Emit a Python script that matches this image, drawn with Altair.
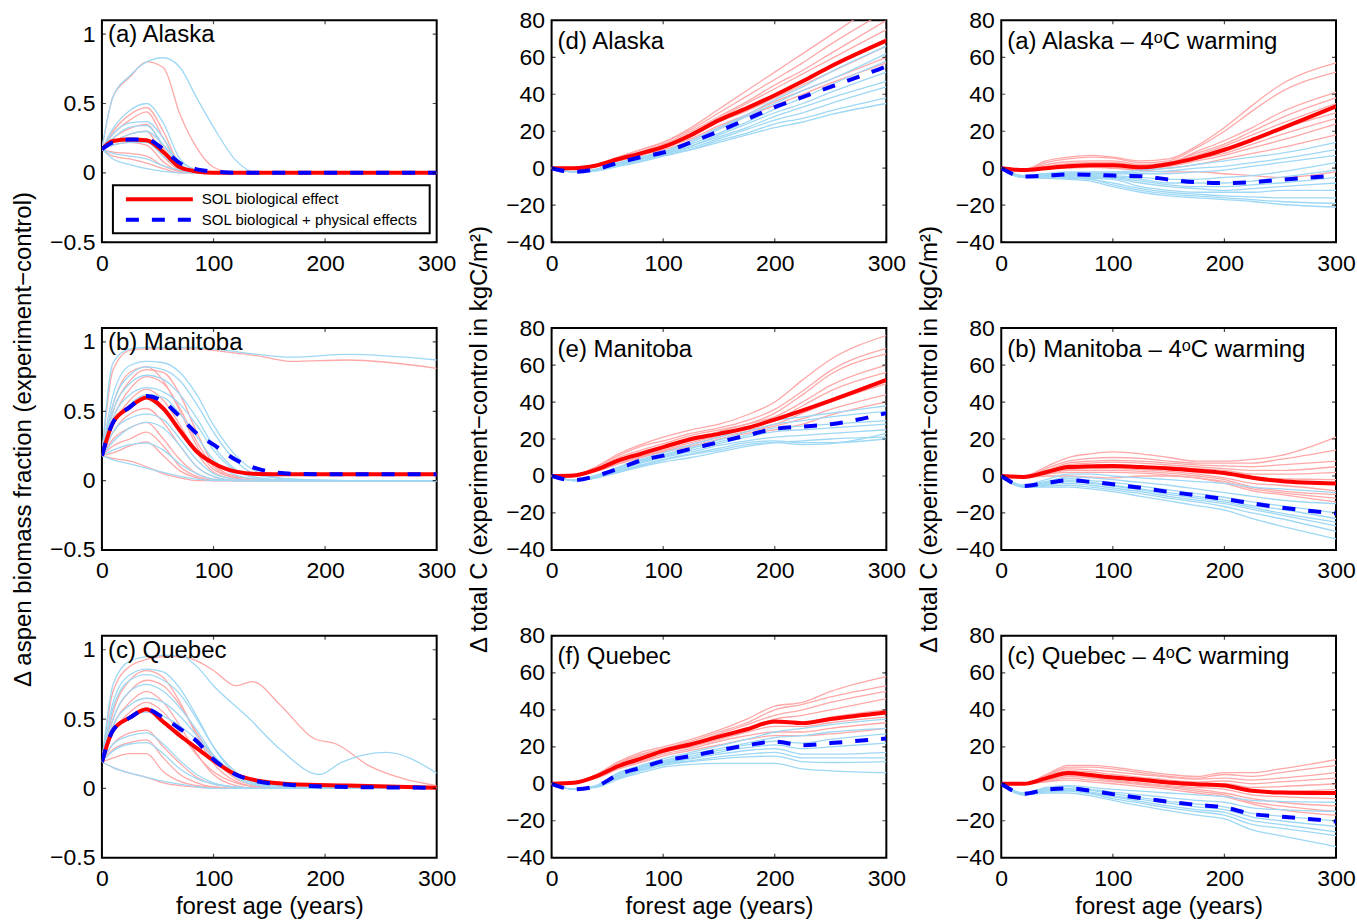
import altair as alt
import pandas as pd

FONT = "Liberation Sans"
PINK = "#FFA8A8"
CYAN = "#9ED8F5"
RED = "#FF0000"
BLUE = "#0000FF"

# ---------------- axes / text ----------------
X_FRAC = [0, 10, 25, 40, 55, 70, 85, 100, 120, 140, 170, 220, 300]
X_C = [0, 20, 40, 60, 80, 100, 125, 150, 175, 200, 225, 250, 300]
X_TICKS = [0, 100, 200, 300]
FRAC_TICKS = [-0.5, 0, 0.5, 1]
C_TICKS = [-40, -20, 0, 20, 40, 60, 80]
FRAC_DOMAIN = [-0.5, 1.1]
C_DOMAIN = [-40, 80]

PANEL_TITLES = [
    "(a) Alaska", "(d) Alaska", "(a) Alaska – 4ᵒC warming",
    "(b) Manitoba", "(e) Manitoba", "(b) Manitoba – 4ᵒC warming",
    "(c) Quebec", "(f) Quebec", "(c) Quebec – 4ᵒC warming",
]
Y_TITLE_FRAC = "Δ aspen biomass fraction (experiment−control)"
Y_TITLE_C = "Δ total C (experiment−control in kgC/m²)"
X_TITLE = "forest age (years)"
LEGEND_LABELS = ["SOL biological effect", "SOL biological + physical effects"]

# ---------------- (a) Alaska, aspen fraction ----------------
A_RED = [0.17, 0.23, 0.24, 0.235, 0.15, 0.04, 0.01, 0, 0, 0, 0, 0, 0]
A_BLUE = [0.17, 0.22, 0.24, 0.24, 0.17, 0.07, 0.025, 0.01, 0, 0, 0, 0, 0]
A_PINK = [
    [0.17, 0.55, 0.69, 0.80, 0.76, 0.42, 0.18, 0.04, 0, 0, 0, 0, 0],
    [0.17, 0.30, 0.42, 0.47, 0.30, 0.06, 0.01, 0, 0, 0, 0, 0, 0],
    [0.17, 0.28, 0.38, 0.44, 0.25, 0.05, 0.01, 0, 0, 0, 0, 0, 0],
    [0.17, 0.25, 0.32, 0.35, 0.18, 0.03, 0, 0, 0, 0, 0, 0, 0],
    [0.17, 0.22, 0.28, 0.30, 0.12, 0.02, 0, 0, 0, 0, 0, 0, 0],
    [0.17, 0.20, 0.22, 0.20, 0.08, 0.01, 0, 0, 0, 0, 0, 0, 0],
    [0.17, 0.15, 0.14, 0.12, 0.05, 0.01, 0, 0, 0, 0, 0, 0, 0],
    [0.17, 0.12, 0.10, 0.07, 0.03, 0, 0, 0, 0, 0, 0, 0, 0],
]
A_CYAN = [
    [0.17, 0.55, 0.70, 0.80, 0.83, 0.76, 0.54, 0.33, 0.09, 0, 0, 0, 0],
    [0.17, 0.32, 0.45, 0.50, 0.36, 0.10, 0.02, 0, 0, 0, 0, 0, 0],
    [0.17, 0.28, 0.36, 0.37, 0.25, 0.06, 0.01, 0, 0, 0, 0, 0, 0],
    [0.17, 0.25, 0.33, 0.34, 0.20, 0.05, 0.01, 0, 0, 0, 0, 0, 0],
    [0.17, 0.22, 0.28, 0.30, 0.20, 0.08, 0.02, 0, 0, 0, 0, 0, 0],
    [0.17, 0.20, 0.22, 0.22, 0.12, 0.03, 0, 0, 0, 0, 0, 0, 0],
    [0.17, 0.14, 0.12, 0.10, 0.05, 0.02, 0, 0, 0, 0, 0, 0, 0],
    [0.17, 0.10, 0.06, 0.03, 0.01, 0, 0, 0, 0, 0, 0, 0, 0],
]

# ---------------- (b) Manitoba, aspen fraction ----------------
B_RED = [0.18, 0.42, 0.53, 0.60, 0.52, 0.36, 0.21, 0.125, 0.065, 0.048, 0.045, 0.045, 0.045]
B_BLUE = [0.18, 0.42, 0.53, 0.61, 0.57, 0.46, 0.34, 0.26, 0.15, 0.085, 0.05, 0.045, 0.045]
B_PINK = [
    [0.18, 0.80, 0.94, 0.95, 0.95, 0.95, 0.95, 0.94, 0.92, 0.90, 0.86, 0.87, 0.81],
    [0.18, 0.55, 0.78, 0.82, 0.72, 0.50, 0.25, 0.08, 0.02, 0, 0, 0, 0],
    [0.18, 0.50, 0.72, 0.80, 0.78, 0.62, 0.35, 0.12, 0.03, 0.01, 0, 0, 0],
    [0.18, 0.45, 0.66, 0.75, 0.70, 0.52, 0.28, 0.10, 0.02, 0, 0, 0, 0],
    [0.18, 0.40, 0.58, 0.66, 0.58, 0.40, 0.20, 0.06, 0.01, 0, 0, 0, 0],
    [0.18, 0.35, 0.48, 0.52, 0.42, 0.25, 0.10, 0.03, 0, 0, 0, 0, 0],
    [0.18, 0.30, 0.38, 0.42, 0.30, 0.15, 0.05, 0.01, 0, 0, 0, 0, 0],
    [0.18, 0.25, 0.30, 0.35, 0.25, 0.10, 0.03, 0, 0, 0, 0, 0, 0],
    [0.18, 0.20, 0.25, 0.28, 0.18, 0.07, 0.02, 0, 0, 0, 0, 0, 0],
    [0.18, 0.16, 0.14, 0.10, 0.05, 0.02, 0, 0, 0, 0, 0, 0, 0],
]
B_CYAN = [
    [0.18, 0.85, 0.95, 0.96, 0.96, 0.96, 0.96, 0.95, 0.93, 0.91, 0.89, 0.91, 0.87],
    [0.18, 0.62, 0.83, 0.86, 0.85, 0.78, 0.62, 0.40, 0.18, 0.06, 0.01, 0, 0],
    [0.18, 0.55, 0.76, 0.82, 0.80, 0.72, 0.55, 0.35, 0.14, 0.04, 0.01, 0, 0],
    [0.18, 0.50, 0.70, 0.76, 0.73, 0.62, 0.45, 0.25, 0.08, 0.02, 0, 0, 0],
    [0.18, 0.45, 0.62, 0.67, 0.64, 0.55, 0.40, 0.22, 0.07, 0.02, 0, 0, 0],
    [0.18, 0.40, 0.55, 0.62, 0.60, 0.48, 0.32, 0.15, 0.04, 0.01, 0, 0, 0],
    [0.18, 0.35, 0.45, 0.48, 0.44, 0.30, 0.15, 0.05, 0.01, 0, 0, 0, 0],
    [0.18, 0.28, 0.38, 0.42, 0.38, 0.25, 0.10, 0.03, 0, 0, 0, 0, 0],
    [0.18, 0.22, 0.26, 0.27, 0.22, 0.12, 0.05, 0.01, 0, 0, 0, 0, 0],
    [0.18, 0.15, 0.12, 0.09, 0.06, 0.03, 0.01, 0, 0, 0, 0, 0, 0],
]

# ---------------- (c) Quebec, aspen fraction ----------------
C_RED = [0.19, 0.42, 0.51, 0.57, 0.48, 0.38, 0.29, 0.20, 0.10, 0.055, 0.03, 0.02, 0.005]
C_BLUE = [0.19, 0.42, 0.51, 0.57, 0.51, 0.43, 0.34, 0.21, 0.10, 0.05, 0.025, 0.01, 0.005]
C_PINK = [
    [0.19, 0.55, 0.78, 0.85, 0.80, 0.62, 0.38, 0.18, 0.05, 0.01, 0, 0, 0],
    [0.19, 0.50, 0.70, 0.78, 0.74, 0.60, 0.40, 0.22, 0.07, 0.02, 0, 0, 0],
    [0.19, 0.45, 0.62, 0.70, 0.62, 0.45, 0.25, 0.10, 0.02, 0, 0, 0, 0],
    [0.19, 0.40, 0.55, 0.62, 0.55, 0.40, 0.24, 0.12, 0.04, 0.01, 0, 0, 0],
    [0.19, 0.32, 0.40, 0.42, 0.30, 0.18, 0.08, 0.03, 0.01, 0, 0, 0, 0],
    [0.19, 0.28, 0.33, 0.35, 0.22, 0.10, 0.04, 0.01, 0, 0, 0, 0, 0],
    [0.19, 0.22, 0.25, 0.25, 0.12, 0.05, 0.02, 0.01, 0, 0, 0, 0, 0],
    [0.19, 0.15, 0.11, 0.08, 0.04, 0.02, 0.01, 0, 0, 0, 0, 0, 0],
]
C_CYAN = [
    [0.19, 0.62, 0.82, 0.86, 0.84, 0.72, 0.52, 0.30, 0.10, 0.03, 0.01, 0, 0],
    [0.19, 0.58, 0.78, 0.82, 0.78, 0.68, 0.50, 0.30, 0.12, 0.04, 0.01, 0, 0],
    [0.19, 0.50, 0.70, 0.75, 0.70, 0.58, 0.42, 0.24, 0.08, 0.02, 0, 0, 0],
    [0.19, 0.45, 0.60, 0.65, 0.62, 0.52, 0.38, 0.24, 0.10, 0.03, 0.01, 0, 0],
    [0.19, 0.40, 0.52, 0.55, 0.52, 0.45, 0.35, 0.22, 0.10, 0.04, 0.01, 0, 0],
    [0.19, 0.32, 0.38, 0.40, 0.32, 0.20, 0.10, 0.04, 0.01, 0, 0, 0, 0],
    [0.19, 0.27, 0.32, 0.33, 0.25, 0.14, 0.07, 0.03, 0.01, 0, 0, 0, 0],
    [0.19, 0.15, 0.11, 0.08, 0.05, 0.03, 0.01, 0, 0, 0, 0, 0, 0],
]
C_PINK_LONG_X = [0, 10, 25, 40, 55, 70, 85, 100, 120, 135, 160, 190, 210, 240, 270, 300]
C_PINK_LONG_Y = [0.19, 0.70, 0.88, 0.93, 0.95, 0.95, 0.92, 0.85, 0.74, 0.77, 0.60, 0.36, 0.32, 0.16, 0.07, 0.02]
C_CYAN_LONG_X = [0, 10, 25, 40, 55, 70, 85, 100, 130, 160, 195, 215, 255, 300]
C_CYAN_LONG_Y = [0.19, 0.75, 0.92, 0.95, 0.96, 0.96, 0.88, 0.74, 0.52, 0.28, 0.10, 0.19, 0.26, 0.11]

# ---------------- (d) Alaska, total C ----------------
D_RED = [0, 0, 1.5, 5, 8, 11.5, 18, 26, 32.5, 39.5, 47, 55, 69]
D_BLUE = [0, -2, -0.5, 3, 6, 8.5, 14, 20, 26.5, 33, 38.5, 44, 55]
D_PINK = [
    [0, 0, 2, 6, 10, 14, 22, 32, 42, 52, 62, 72, 92],
    [0, 0, 2, 6, 10, 14, 21, 30, 39, 48, 57, 67, 85],
    [0, 0, 2, 5, 9, 13, 20, 28, 36, 45, 53, 62, 80],
    [0, 0, 1.5, 5, 8.5, 12, 19, 27, 35, 43, 51, 59, 75],
    [0, 0, 1.5, 5, 8, 12, 18, 26, 33, 40, 47, 55, 70],
    [0, 0, 1.5, 4.5, 8, 11, 17, 25, 31, 38, 45, 52, 66],
    [0, 0, 1, 4, 7, 11, 16, 23, 29, 36, 42, 48, 60],
    [0, 0, 1, 4, 7, 10, 15, 22, 28, 34, 40, 46, 57],
]
D_CYAN = [
    [0, -2, -0.5, 3, 6, 9, 15, 22, 29, 37, 44, 52, 66],
    [0, -2, -0.5, 3, 6, 9, 14, 21, 28, 35, 42, 48, 62],
    [0, -2, -1, 2.5, 5.5, 8.5, 13, 19, 25, 32, 38, 45, 58],
    [0, -2, -1, 2, 5, 8, 12, 18, 24, 30, 35, 41, 52],
    [0, -2, -1, 2, 5, 8, 12, 17, 22, 28, 33, 38, 47],
    [0, -2, -1, 2, 4.5, 7.5, 11, 16, 21, 26, 30, 35, 44],
    [0, -2, -1, 1.5, 4, 7, 10, 15, 19, 24, 27, 31, 38],
    [0, -2, -1.5, 1, 3.5, 6.5, 10, 14, 18, 22, 25, 29, 35],
]

# ---------------- (e) Manitoba, total C ----------------
E_RED = [0, 0.3, 3.4, 8.4, 12, 15.6, 20, 22.8, 26, 30.5, 35.5, 40.8, 52]
E_BLUE = [0, -2.3, 0, 4, 8.4, 11, 14.7, 18.3, 22, 25.5, 26.7, 28, 34]
E_PINK = [
    [0, 0.5, 5, 12, 17, 21, 25, 28, 33, 40, 52, 63, 76],
    [0, 0.5, 5, 11, 16, 19, 23, 26, 30, 36, 46, 57, 69],
    [0, 0.5, 4, 10, 14, 17.5, 22, 25, 28, 34, 44, 55, 66],
    [0, 0.3, 4, 9, 13, 16, 20, 24, 28, 32, 40, 49, 60],
    [0, 0.3, 3.5, 8, 12, 15, 19, 22, 26, 30, 38, 46, 56],
    [0, 0.3, 3, 7.5, 11, 14, 18, 22, 25, 28, 34, 40, 50],
    [0, 0.3, 3, 7, 10.5, 13.5, 17, 21, 24, 27, 31, 36, 44],
    [0, 0.2, 2.5, 6.5, 10, 13, 16, 20, 23, 25, 28, 33, 40],
]
E_CYAN = [
    [0, -2.3, 0.5, 5, 9, 12.5, 17, 21, 26, 30, 32, 34, 38],
    [0, -2.3, 0, 4.5, 8.5, 11.5, 15.5, 19.5, 24, 28, 30, 32, 35],
    [0, -2.3, 0, 4, 8, 11, 15, 18.5, 22, 26, 27, 28, 30],
    [0, -2.5, -0.5, 3.5, 7.5, 10.5, 14, 17.5, 21, 24, 25, 26, 28],
    [0, -2.5, -0.5, 3, 7, 10, 13, 16.5, 19, 21, 22, 23, 25],
    [0, -2.5, -1, 2.5, 6, 9, 12, 15, 18, 19, 18, 18, 20],
    [0, -2.5, -1, 2, 5.5, 8.5, 11.5, 14, 17, 18, 17, 17.5, 23],
    [0, -2.5, -1, 2, 5, 7.5, 10, 13, 16, 18, 19, 20, 21],
]

# ---------------- (f) Quebec, total C ----------------
F_RED = [0, 0.5, 4, 9.6, 13.6, 17.8, 21.4, 25.5, 29.5, 33.7, 32.8, 35, 38.6]
F_BLUE = [0, -3, -1.3, 5, 8.7, 12.3, 15, 18, 20.8, 22.8, 20.8, 22, 24.5]
F_PINK = [
    [0, 0.5, 5, 12, 17, 20, 24, 29, 35, 42, 44, 50, 58],
    [0, 0.5, 5, 11.5, 16, 19, 23, 28, 33, 40, 43, 47, 53],
    [0, 0.5, 4.5, 11, 15.5, 18.5, 22, 27, 32, 37, 40, 44, 50],
    [0, 0.5, 4, 10, 14.5, 18, 21.5, 26, 30, 35, 37, 40, 46],
    [0, 0.5, 4, 9.5, 13.5, 17.5, 21, 25, 29, 33, 33, 36, 40],
    [0, 0.3, 3.5, 9, 13, 17, 20, 24, 28, 31, 31, 33, 36],
    [0, 0.3, 3.5, 8.5, 12, 16, 19, 23, 26, 28, 28, 30, 33],
    [0, 0.3, 3, 8, 11.5, 15, 18, 21, 24, 26, 26, 27, 30],
]
F_CYAN = [
    [0, -3, -1, 6, 10, 13.5, 17, 20.5, 24, 28, 30, 32, 35],
    [0, -3, -1, 5.5, 9.5, 12.5, 16, 19, 22, 25, 26, 28, 30],
    [0, -3, -1.3, 5, 9, 12, 15, 18, 21, 23, 22, 24, 27],
    [0, -3, -1.3, 4.5, 8.5, 11.5, 14, 17, 19.5, 21, 19, 20, 22],
    [0, -3, -1.5, 4, 8, 11, 13.5, 16, 18, 19, 16, 16, 17],
    [0, -3, -1.5, 3.5, 7.5, 10.5, 12.5, 14.5, 16, 17, 14, 14, 14],
    [0, -3, -1.5, 3, 7, 10, 12, 13.5, 14.5, 15, 12, 11.5, 12],
    [0, -3, -2, 2.5, 6, 9, 10.5, 11, 11, 11, 8, 7, 6],
]

# ---------------- Alaska 4C warming ----------------
AW_RED = [0, -1, 0, 1, 1.6, 1.6, 0.5, 2.3, 5.6, 10, 15.4, 21.3, 33.5]
AW_BLUE = [0, -4.5, -4, -3.4, -3.6, -4, -4.3, -6.1, -7.6, -8, -7.6, -6.3, -4]
AW_PINK = [
    [0, -1, 4, 6, 7, 6, 4, 5, 12, 22, 34, 45, 57],
    [0, -1, 3, 5, 6, 5.5, 3, 4, 11, 20, 31, 41, 52],
    [0, -1, 2, 3.5, 4, 4, 2, 3, 9, 15, 22, 30, 41],
    [0, -1, 1, 2.5, 3, 3, 1.5, 3, 8, 13, 20, 27, 38],
    [0, -1, 1, 2, 2.5, 2.5, 1, 2.5, 7, 12, 18, 24, 35],
    [0, -1, 0.5, 1.5, 2, 2, 0.5, 2, 6, 10, 15, 21, 30],
    [0, -1, 0, 1, 1.5, 1.5, 0, 1.5, 5, 8, 13, 18, 27],
    [0, -1, 0, 0.5, 1, 1, -0.5, 1, 4, 7, 11, 15, 24],
    [0, -1, -0.5, 0, 0.5, 0, -1, 0, 2, 5, 8, 11, 18],
    [0, -1, 0, 1, 1, 0, -1, -2, -2, -3, -4, -5, -2],
]
AW_CYAN = [
    [0, -4, -3, -2, -2, -2, -1, 0, 2, 4, 6, 8, 14],
    [0, -4, -3, -2.5, -2.5, -2.5, -2, -1.5, 0, 1, 3, 5, 10],
    [0, -4.5, -3.5, -3, -3, -3, -3, -3, -2, -1, 1, 3, 7],
    [0, -4.5, -4, -3.5, -3.5, -4, -5, -6, -6, -5, -4, -2, 3],
    [0, -4.5, -4, -3.5, -4, -4.5, -6, -8, -8, -8, -7, -5, -1],
    [0, -5, -4.5, -4, -4.5, -5, -7, -9, -10, -10, -9, -8, -5],
    [0, -5, -4.5, -4.5, -5, -5.5, -8, -10, -11, -12, -11, -10, -8],
    [0, -5, -5, -5, -5.5, -6, -10, -12, -13, -13, -13, -12, -12],
    [0, -5, -5, -5, -6, -8, -11, -13, -14, -15, -15.5, -16, -16],
    [0, -5, -5, -5.5, -6, -9, -12, -14, -15, -16, -17, -18, -19],
    [0, -5, -5.5, -6, -7, -10, -13, -15, -16, -17, -18, -19.5, -21],
]

# ---------------- Manitoba 4C warming ----------------
BW_RED = [0, -0.5, 2, 4.8, 5.2, 5.4, 4.8, 4.1, 3, 1.6, -0.9, -2.7, -4.1]
BW_BLUE = [0, -5.4, -3.8, -2.3, -3.2, -4.5, -6.4, -8.6, -10.4, -12.5, -14.8, -17, -20.2]
BW_PINK = [
    [0, 0, 5, 10, 12, 13, 12, 10, 8, 8, 9, 11, 21],
    [0, 0, 4, 8, 9.5, 10, 9.5, 8, 7, 7, 7, 9, 14],
    [0, 0, 3, 7, 8, 8.5, 8, 7, 6, 5.5, 5, 6, 8],
    [0, -0.5, 2.5, 6, 7, 7.5, 7, 6, 5, 4, 3, 3, 5],
    [0, -0.5, 2, 5, 6, 6, 5.5, 5, 4, 3, 1, 1, 2],
    [0, -0.5, 2, 4.5, 5, 5, 4.5, 3.5, 2, 1, -1, -1.5, -2],
    [0, -0.5, 1.5, 3.5, 4, 4, 3.5, 2.5, 1, -1, -4, -5, -8],
    [0, -0.5, 1, 3, 3, 3, 2.5, 1.5, 0, -2, -6, -8, -10],
    [0, -0.5, 1, 2, 2, 2, 1.5, 0.5, -1, -3, -7, -9, -12],
    [0, -1, 0, 0, -0.5, -1, 0, 0, -1, -4, -8, -10, -14],
]
BW_CYAN = [
    [0, -5, -2, 1, 1, 0, -1, -2, -3, -4, -6, -7, -9],
    [0, -5, -3, -0.5, -1, -2, -3.5, -5, -7, -9, -11, -13, -15],
    [0, -5.4, -3.5, -1.5, -2.5, -3.5, -5.5, -7.5, -9.5, -11.5, -14, -16, -20],
    [0, -5.5, -4, -2.5, -3.5, -5, -7, -9, -11, -13, -16, -18, -23],
    [0, -5.5, -4.5, -3, -4, -5.5, -7.5, -10, -12, -14, -17, -20, -25],
    [0, -6, -5, -4, -5, -6.5, -8.5, -11, -13, -15, -18, -21, -27],
    [0, -6, -5.5, -5, -6, -7.5, -9.5, -12, -14, -16.5, -20, -23, -30],
    [0, -6, -6, -6, -7, -8.5, -11, -13.5, -16, -18.5, -23, -27, -34],
]

# ---------------- Quebec 4C warming ----------------
CW_RED = [0, 0, 2.9, 5.8, 4.7, 3.4, 2.2, 0.7, -0.2, -1, -3.8, -4.7, -5]
CW_BLUE = [0, -5.4, -3.2, -2.5, -3.8, -5.6, -7.7, -9.7, -11.4, -12.8, -16.4, -17.7, -20.4]
CW_PINK = [
    [0, 0, 5, 10, 10, 9, 7, 5, 4, 6, 6, 8, 13],
    [0, 0, 4.5, 9, 9, 8, 6, 4, 3, 5, 4, 6, 10],
    [0, 0, 4, 8, 7.5, 6.5, 5, 3.5, 2.5, 3, 2, 3, 6],
    [0, 0, 3.5, 7, 6.5, 5, 3.5, 2, 1, 1.5, 0, 1, 3],
    [0, 0, 3, 6, 5, 4, 2.5, 1, 0, 0, -2, -1.5, 0],
    [0, 0, 2.5, 5, 4, 3, 1.5, 0, -1, -1.5, -4, -4, -3],
    [0, 0, 2, 4.5, 3.5, 2, 0.5, -1, -2, -3, -6, -7, -8],
    [0, 0, 1.5, 4, 3, 1.5, 0, -1.5, -3, -5, -8, -10, -12],
    [0, 0, 1, 3, 2, 1, -0.5, -2, -4, -6, -10, -12, -15],
    [0, 0, 1, 2, 1, 0, -1.5, -3, -5, -7, -11, -14, -17],
]
CW_CYAN = [
    [0, -5, -2, -1, -2, -3, -4, -5, -6, -7, -9, -9.5, -10],
    [0, -5, -2.5, -1.5, -3, -4.5, -6, -7.5, -9, -10, -13, -14, -15],
    [0, -5.5, -3, -2.5, -3.5, -5.5, -7.5, -9.5, -11, -12.5, -16, -17.5, -20],
    [0, -5.5, -3.5, -3, -4.5, -6.5, -8.5, -10.5, -12.5, -14, -18, -20, -23],
    [0, -6, -4, -3.5, -5, -7, -9.5, -12, -14, -15.5, -20, -22, -26],
    [0, -6, -4.5, -4, -5.5, -8, -10.5, -13, -15, -17, -22, -24, -28],
    [0, -6, -5, -5, -6.5, -9, -12, -14.5, -17, -19, -25, -28, -34],
]


def lines_df(x, red, blue, pinks, cyans, extra=()):
    rows = []
    for i, ys in enumerate(pinks):
        rows += [dict(id=f"p{i}", kind="pink", x=a, y=b) for a, b in zip(x, ys)]
    for j, (kind, xs, ys) in enumerate(extra):
        rows += [dict(id=f"e{j}", kind=kind, x=a, y=b) for a, b in zip(xs, ys)]
    for i, ys in enumerate(cyans):
        rows += [dict(id=f"c{i}", kind="cyan", x=a, y=b) for a, b in zip(x, ys)]
    rows += [dict(id="red", kind="red", x=a, y=b) for a, b in zip(x, red)]
    rows += [dict(id="blue", kind="blue", x=a, y=b) for a, b in zip(x, blue)]
    return pd.DataFrame(rows)


def panel(df, domain, yticks, yfmt, title, title_y, ytitle=None, xtitle=None, legend=False):
    xenc = alt.X("x:Q", title=xtitle,
                 scale=alt.Scale(domain=[0, 300], nice=False, zero=False),
                 axis=alt.Axis(values=X_TICKS, format="d", labelFlush=False))
    yenc = alt.Y("y:Q", title=ytitle,
                 scale=alt.Scale(domain=domain, nice=False, zero=False),
                 axis=alt.Axis(values=yticks, format=yfmt, labelFlush=False))
    base = alt.Chart(df).encode(x=xenc, y=yenc)
    pink = base.transform_filter("datum.kind == 'pink'").mark_line(
        clip=True, color=PINK, strokeWidth=1.3, interpolate="monotone").encode(detail="id:N")
    cyan = base.transform_filter("datum.kind == 'cyan'").mark_line(
        clip=True, color=CYAN, strokeWidth=1.3, interpolate="monotone").encode(detail="id:N")
    red = base.transform_filter("datum.kind == 'red'").mark_line(
        clip=True, color=RED, strokeWidth=4, interpolate="monotone", strokeCap="butt")
    blue = base.transform_filter("datum.kind == 'blue'").mark_line(
        clip=True, color=BLUE, strokeWidth=4, interpolate="monotone",
        strokeDash=[13, 13], strokeCap="butt")

    ytick_df = pd.DataFrame([{"x": xv, "y": v} for v in yticks for xv in (0, 300)])
    xtick_df = pd.DataFrame([{"x": v, "y": yv} for v in X_TICKS for yv in domain])
    yt = alt.Chart(ytick_df).mark_tick(orient="horizontal", size=8, thickness=1.2,
                                       color="black", clip=True).encode(x=xenc, y=yenc)
    xt = alt.Chart(xtick_df).mark_tick(orient="vertical", size=8, thickness=1.2,
                                       color="black", clip=True).encode(x=xenc, y=yenc)
    ttl = alt.Chart(pd.DataFrame({"t": [title]})).mark_text(
        align="left", baseline="alphabetic", font=FONT, fontSize=24, color="black"
    ).encode(x=alt.value(6), y=alt.value(title_y), text="t:N")
    layers = [pink, cyan, red, blue, yt, xt, ttl]
    if legend:
        one = pd.DataFrame({"label": [LEGEND_LABELS[0]]})
        two = pd.DataFrame({"label": [LEGEND_LABELS[1]]})
        box = alt.Chart(one).mark_rect(fill="white", stroke="black", strokeWidth=2).encode(
            x=alt.value(11), x2=alt.value(328), y=alt.value(165), y2=alt.value(213))
        r1 = alt.Chart(one).mark_rule(color=RED, strokeWidth=4, strokeCap="butt").encode(
            x=alt.value(24), x2=alt.value(91), y=alt.value(179))
        r2 = alt.Chart(two).mark_rule(color=BLUE, strokeWidth=4, strokeCap="butt",
                                      strokeDash=[13, 13]).encode(
            x=alt.value(24), x2=alt.value(91), y=alt.value(199.5))
        t1 = alt.Chart(one).mark_text(align="left", baseline="middle", font=FONT,
                                      fontSize=15, color="black").encode(
            x=alt.value(100), y=alt.value(179), text="label:N")
        t2 = alt.Chart(two).mark_text(align="left", baseline="middle", font=FONT,
                                      fontSize=15, color="black").encode(
            x=alt.value(100), y=alt.value(199.5), text="label:N")
        layers += [box, r1, r2, t1, t2]
    return alt.layer(*layers).properties(width=335, height=222)


FRAC_FMT = "~g"
C_FMT = "d"
panels = [
    panel(lines_df(X_FRAC, A_RED, A_BLUE, A_PINK, A_CYAN), FRAC_DOMAIN, FRAC_TICKS, FRAC_FMT,
          PANEL_TITLES[0], 22, legend=True),
    panel(lines_df(X_C, D_RED, D_BLUE, D_PINK, D_CYAN), C_DOMAIN, C_TICKS, C_FMT,
          PANEL_TITLES[1], 28.5),
    panel(lines_df(X_C, AW_RED, AW_BLUE, AW_PINK, AW_CYAN), C_DOMAIN, C_TICKS, C_FMT,
          PANEL_TITLES[2], 28.5),
    panel(lines_df(X_FRAC, B_RED, B_BLUE, B_PINK, B_CYAN), FRAC_DOMAIN, FRAC_TICKS, FRAC_FMT,
          PANEL_TITLES[3], 22, ytitle=Y_TITLE_FRAC),
    panel(lines_df(X_C, E_RED, E_BLUE, E_PINK, E_CYAN), C_DOMAIN, C_TICKS, C_FMT,
          PANEL_TITLES[4], 28.5, ytitle=Y_TITLE_C),
    panel(lines_df(X_C, BW_RED, BW_BLUE, BW_PINK, BW_CYAN), C_DOMAIN, C_TICKS, C_FMT,
          PANEL_TITLES[5], 28.5, ytitle=Y_TITLE_C),
    panel(lines_df(X_FRAC, C_RED, C_BLUE, C_PINK, C_CYAN,
                   extra=[("pink", C_PINK_LONG_X, C_PINK_LONG_Y),
                          ("cyan", C_CYAN_LONG_X, C_CYAN_LONG_Y)]),
          FRAC_DOMAIN, FRAC_TICKS, FRAC_FMT, PANEL_TITLES[6], 22, xtitle=X_TITLE),
    panel(lines_df(X_C, F_RED, F_BLUE, F_PINK, F_CYAN), C_DOMAIN, C_TICKS, C_FMT,
          PANEL_TITLES[7], 28.5, xtitle=X_TITLE),
    panel(lines_df(X_C, CW_RED, CW_BLUE, CW_PINK, CW_CYAN), C_DOMAIN, C_TICKS, C_FMT,
          PANEL_TITLES[8], 28.5, xtitle=X_TITLE),
]

chart = alt.concat(
    *panels, columns=3, spacing={"row": 86, "column": 115}, bounds="flush"
).properties(
    padding={"left": 10, "top": 8, "right": 0, "bottom": 0},
    background="white",
).configure_view(
    stroke="black", strokeWidth=2
).configure_axis(
    labelFont=FONT, labelFontSize=23, labelColor="black",
    titleFont=FONT, titleFontSize=24, titleFontWeight="normal", titleColor="black",
    grid=False, domain=False, ticks=False, tickSize=0,
).configure_axisX(
    labelPadding=10, titlePadding=4
).configure_axisY(
    labelPadding=7, titlePadding=14
)

chart.save("out.html", embed_options={"renderer": "svg", "actions": False})
